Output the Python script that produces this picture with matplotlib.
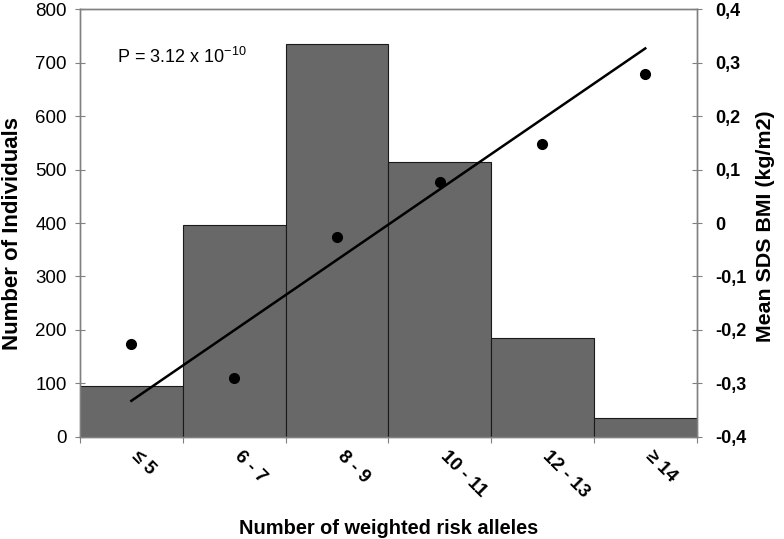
import numpy as np
import matplotlib.pyplot as plt
import matplotlib.transforms as mtransforms

plt.rcParams["font.family"] = ["Liberation Sans", "DejaVu Sans"]
plt.rcParams["mathtext.fontset"] = "custom"
plt.rcParams["mathtext.rm"] = "Liberation Sans"

# Data
categories = ["\u2264 5", "6 - 7", "8 - 9", "10 - 11", "12 - 13", "\u2265 14"]
n_individuals = [95, 397, 736, 514, 184, 34]
mean_sds_bmi = [-0.227, -0.291, -0.027, 0.076, 0.148, 0.279]
trend_ends = [-0.333, 0.327]  # regression line at first and last category
right_ticklabels = ["-0,4", "-0,3", "-0,2", "-0,1", "0", "0,1", "0,2", "0,3", "0,4"]

gray = "#808080"
x = np.arange(len(categories))

fig = plt.figure(figsize=(7.84, 5.39), dpi=100)
ax = fig.add_axes([0.102, 0.19, 0.7866, 0.7925])

# Histogram-like bars
ax.bar(x, n_individuals, width=1.0, color="#686868", edgecolor="#1a1a1a", linewidth=0.8, zorder=2)
ax.set_xlim(-0.5, len(categories) - 0.5)
ax.set_ylim(0, 800)
ax.set_yticks(np.arange(0, 801, 100))
ax.tick_params(axis="y", direction="inout", length=7, color=gray, labelsize=13.5, pad=6)

# ticks at bin edges, labels at bin centres
ax.set_xticks(np.arange(-0.5, len(categories), 1.0))
ax.set_xticklabels([])
ax.tick_params(axis="x", which="major", direction="inout", length=9, color=gray)
ax.set_xticks(x, minor=True)
ax.set_xticklabels(categories, minor=True, rotation=-45, ha="left", va="top",
                   rotation_mode="anchor", fontweight="bold", fontsize=13.5)
ax.tick_params(axis="x", which="minor", length=0, pad=8)
shift = mtransforms.ScaledTranslation(6.5 / 72, 0, fig.dpi_scale_trans)
for lab in ax.get_xticklabels(minor=True):
    lab.set_transform(lab.get_transform() + shift)

for sp in ax.spines.values():
    sp.set_color(gray)
    sp.set_linewidth(1.0)

ax.set_ylabel("Number of Individuals", fontweight="bold", fontsize=16)
ax.yaxis.set_label_coords(-0.093, 0.4766)
ax.set_xlabel("Number of weighted risk alleles", fontweight="bold", fontsize=14.4)
ax.xaxis.set_label_coords(0.5, -0.192)

ax.text(0.06, 0.874, "P = 3.12 x 10$^{-10}$", transform=ax.transAxes, fontsize=13,
        ha="left", va="baseline")

# Secondary axis: mean SDS BMI
ax2 = ax.twinx()
ax2.set_ylim(-0.4, 0.4)
ax2.set_yticks(np.arange(-0.4, 0.401, 0.1))
ax2.set_yticklabels(right_ticklabels, fontweight="bold", fontsize=13)
ax2.tick_params(axis="y", direction="inout", length=7, color=gray, pad=10)
for sp in ax2.spines.values():
    sp.set_color(gray)
    sp.set_linewidth(1.0)
ax2.set_ylabel("Mean SDS BMI (kg/m2)", fontweight="bold", fontsize=15.4)
ax2.yaxis.set_label_coords(1.096, 0.493)

ax2.plot(x, mean_sds_bmi, "o", color="black", markersize=7, zorder=4)
ax2.plot([x[0], x[-1]], trend_ends, color="black", linewidth=1.8, zorder=3)

fig.savefig("out.png", dpi=100)
